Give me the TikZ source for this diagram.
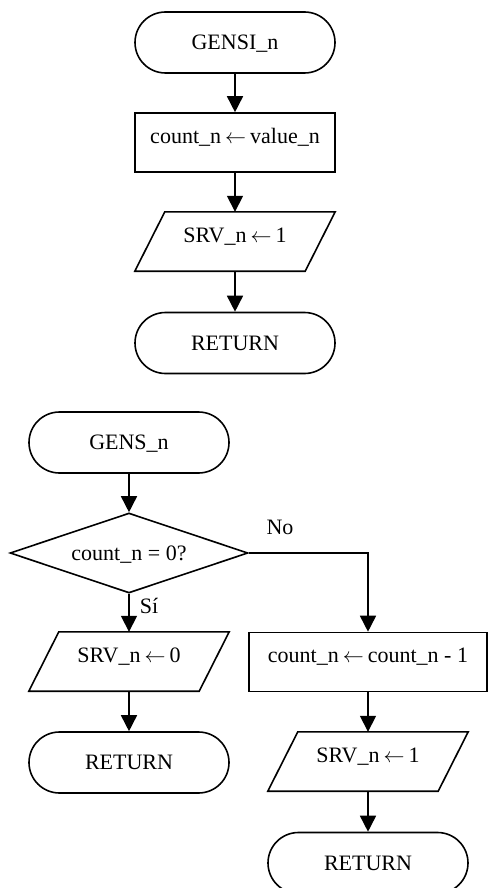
\documentclass[tikz,border=0pt]{standalone}
\usepackage{fontspec}
\usepackage{graphicx}
\setmainfont{Liberation Serif}
\usetikzlibrary{shapes.misc,shapes.geometric,arrows.meta}

% thin assignment arrow
\newcommand\assign{\hspace{4pt}\resizebox{21pt}{!}{$\leftarrow$}\hspace{4pt}}

% parallelogram outline around an (invisible) io node
\newcommand\ioframe[1]{%
  \draw[line] ([xshift=30pt]#1.north west) -- (#1.north east)
    -- ([xshift=-30pt]#1.south east) -- (#1.south west) -- cycle;}

\begin{document}
\begin{tikzpicture}[x=1pt,y=-1pt,
  every node/.style={font=\fontsize{22}{26}\selectfont, inner sep=0pt,
    text height=15pt, text depth=1pt},
  line/.style={line width=1.6pt},
  flow/.style={line, -{Triangle[length=16pt,width=16pt]}},
  term/.style={draw, line, rounded rectangle, minimum width=200pt, minimum height=61pt},
  proc/.style={draw, line, rectangle, minimum width=200pt, minimum height=59pt, text depth=14pt},
  io/.style={minimum width=200pt, minimum height=59pt, text depth=14pt},
  decision/.style={draw, line, diamond, aspect=3, minimum width=238pt, minimum height=80pt}]

\clip (0,0) rectangle (488,888);
\fill[white] (0,0) rectangle (488,888);

% GENSI_n routine
\node[term] (gensi) at (235,42.5) {GENSI\_n};
\node[proc] (setc) at (235,142.5) {count\_n\assign value\_n};
\node[io]   (srv1a) at (235,241.5) {SRV\_n\assign 1};
\ioframe{srv1a}
\node[term] (reta) at (235,343) {RETURN};

\draw[flow] (gensi) -- (setc);
\draw[flow] (setc) -- (srv1a);
\draw[flow] (srv1a) -- (reta);

% GENS_n routine
\node[term] (gens) at (129,442.5) {GENS\_n};
\node[decision] (test) at (129,553) {count\_n = 0?};
\node[io]   (srv0) at (129,661.5) {SRV\_n\assign 0};
\ioframe{srv0}
\node[term] (retb) at (129,762.5) {RETURN};

\node[proc, minimum width=238pt] (dec) at (368,662) {count\_n\assign count\_n - 1};
\node[io]   (srv1b) at (368,761.5) {SRV\_n\assign 1};
\ioframe{srv1b}
\node[term] (retc) at (368,863) {RETURN};

\draw[flow] (gens) -- (test);
\draw[flow] (test.south) -- (srv0.north);
\draw[flow] (srv0) -- (retb);
\draw[flow] (test.east) -| (dec.north);
\draw[flow] (dec) -- (srv1b);
\draw[flow] (srv1b) -- (retc);

\node (no) at (280,527) {No};
\node (si) at (149,606) {Sí};
\end{tikzpicture}
\end{document}
